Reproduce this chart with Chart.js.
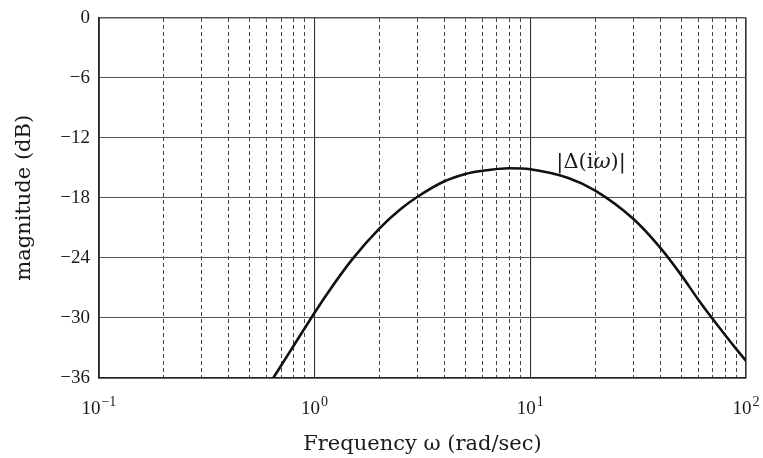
<!DOCTYPE html>
<html>
<head>
<meta charset="utf-8">
<script src="https://cdn.jsdelivr.net/npm/chart.js@4"></script>
<style>
    body { margin: 0; background: #fff; }
    #wrap { width: 763px; height: 458px; }
</style>
</head>
<body>
<div id="wrap"><canvas id="bodeChart" width="763" height="458"></canvas></div>
<script>
// Frequency points (rad/sec) and magnitude (dB)
const omega = [0.643, 0.8, 0.958, 1.146, 1.5, 2.0, 2.5, 3.0, 4.0, 5.0, 6.0, 8.0, 10, 15, 20, 30, 40, 50, 60, 70, 80, 90, 100];
const magnitude = [-36, -32.77, -30.1, -27.55, -24.1, -21.05, -19.15, -17.9, -16.35, -15.62, -15.3, -15.05, -15.15, -16.03, -17.28, -20.1, -22.98, -25.7, -28.15, -30.09, -31.71, -33.09, -34.29];

// Axis ticks
const majorTicks = [0.1, 1, 10, 100];
const majorExponents = ['−1', '0', '1', '2'];
const minorTicks = [0.2, 0.3, 0.4, 0.5, 0.6, 0.7, 0.8, 0.9, 2, 3, 4, 5, 6, 7, 8, 9, 20, 30, 40, 50, 60, 70, 80, 90];
const yTicks = [-36, -30, -24, -18, -12, -6, 0];

// Curve label
const curveLabel = { before: '|Δ(i', omega: 'ω', after: ')|', x: 13.2, y: -15.0 };

const points = omega.map((w, i) => ({ x: w, y: magnitude[i] }));

// Draws decade labels as 10 with a raised exponent
const decadeLabelPlugin = {
    id: 'decadeLabels',
    afterDraw(chart) {
        const ctx = chart.ctx;
        const scale = chart.scales.x;
        const base = chart.chartArea.bottom + 36;
        ctx.save();
        ctx.fillStyle = '#1a1a1a';
        ctx.textBaseline = 'alphabetic';
        ctx.textAlign = 'left';
        majorTicks.forEach((v, i) => {
            const px = scale.getPixelForValue(v);
            ctx.font = '19px "Liberation Serif"';
            const w10 = ctx.measureText('10').width;
            ctx.font = '14px "Liberation Serif"';
            const wExp = ctx.measureText(majorExponents[i]).width;
            const start = px - (w10 + wExp + 1) / 2;
            ctx.font = '19px "Liberation Serif"';
            ctx.fillText('10', start, base);
            ctx.font = '14px "Liberation Serif"';
            ctx.fillText(majorExponents[i], start + w10 + 1, base - 8);
        });
        ctx.restore();
    }
};

// Draws the |Δ(iω)| label next to the curve
const curveLabelPlugin = {
    id: 'curveLabel',
    afterDatasetsDraw(chart) {
        const ctx = chart.ctx;
        const px = chart.scales.x.getPixelForValue(curveLabel.x);
        const py = chart.scales.y.getPixelForValue(curveLabel.y);
        ctx.save();
        ctx.fillStyle = '#1a1a1a';
        ctx.textBaseline = 'alphabetic';
        ctx.textAlign = 'left';
        let cx = px;
        ctx.font = '21px "DejaVu Serif"';
        ctx.fillText(curveLabel.before, cx, py);
        cx += ctx.measureText(curveLabel.before).width;
        ctx.font = 'italic 21px "DejaVu Serif"';
        ctx.fillText(curveLabel.omega, cx, py);
        cx += ctx.measureText(curveLabel.omega).width;
        ctx.font = '21px "DejaVu Serif"';
        ctx.fillText(curveLabel.after, cx, py);
        ctx.restore();
    }
};

const edgeWidth = (ctx, last) => (ctx.index === 0 || ctx.index === last) ? 1.6 : 1.1;

const chartCtx = document.getElementById('bodeChart').getContext('2d');
const chart = new Chart(chartCtx, {
    type: 'line',
    data: {
        datasets: [{
            label: '|Δ(iω)|',
            data: points,
            borderColor: '#111',
            borderWidth: 2.6,
            pointRadius: 0,
            cubicInterpolationMode: 'monotone',
            fill: false
        }]
    },
    options: {
        responsive: false,
        animation: false,
        layout: {
            padding: { left: 12, right: 17, top: 12, bottom: 0 }
        },
        plugins: {
            legend: { display: false },
            tooltip: { enabled: false }
        },
        scales: {
            x: {
                type: 'logarithmic',
                position: 'bottom',
                min: 0.1,
                max: 100,
                afterBuildTicks: (scale) => {
                    scale.ticks = majorTicks.map(v => ({ value: v }));
                },
                grid: {
                    drawTicks: false,
                    color: '#333',
                    lineWidth: (ctx) => edgeWidth(ctx, majorTicks.length - 1)
                },
                border: { color: '#222', width: 1.6 },
                ticks: { display: false },
                title: {
                    display: true,
                    text: 'Frequency ω (rad/sec)',
                    color: '#1a1a1a',
                    font: { family: '"DejaVu Serif"', size: 21, lineHeight: 1.0 },
                    padding: { top: 56, bottom: 3 }
                }
            },
            x2: {
                type: 'logarithmic',
                position: 'top',
                min: 0.1,
                max: 100,
                afterBuildTicks: (scale) => {
                    scale.ticks = minorTicks.map(v => ({ value: v }));
                },
                grid: {
                    drawTicks: false,
                    color: '#444',
                    lineWidth: 1
                },
                border: { display: false, dash: [4, 3] },
                ticks: { display: false }
            },
            y: {
                type: 'linear',
                min: -36,
                max: 0,
                afterBuildTicks: (scale) => {
                    scale.ticks = yTicks.map(v => ({ value: v }));
                },
                grid: {
                    drawTicks: false,
                    color: '#555',
                    lineWidth: (ctx) => edgeWidth(ctx, yTicks.length - 1)
                },
                border: { color: '#222', width: 1.6 },
                ticks: {
                    padding: 9,
                    color: '#1a1a1a',
                    font: { family: '"Liberation Serif"', size: 19, lineHeight: 0.9 },
                    callback: (value) => value < 0 ? '−' + Math.abs(value) : String(value)
                },
                title: {
                    display: true,
                    text: 'magnitude (dB)',
                    color: '#1a1a1a',
                    font: { family: '"DejaVu Serif"', size: 21 },
                    padding: { top: 0, bottom: 14 }
                }
            }
        }
    },
    plugins: [curveLabelPlugin, decadeLabelPlugin]
});
</script>
</body>
</html>
